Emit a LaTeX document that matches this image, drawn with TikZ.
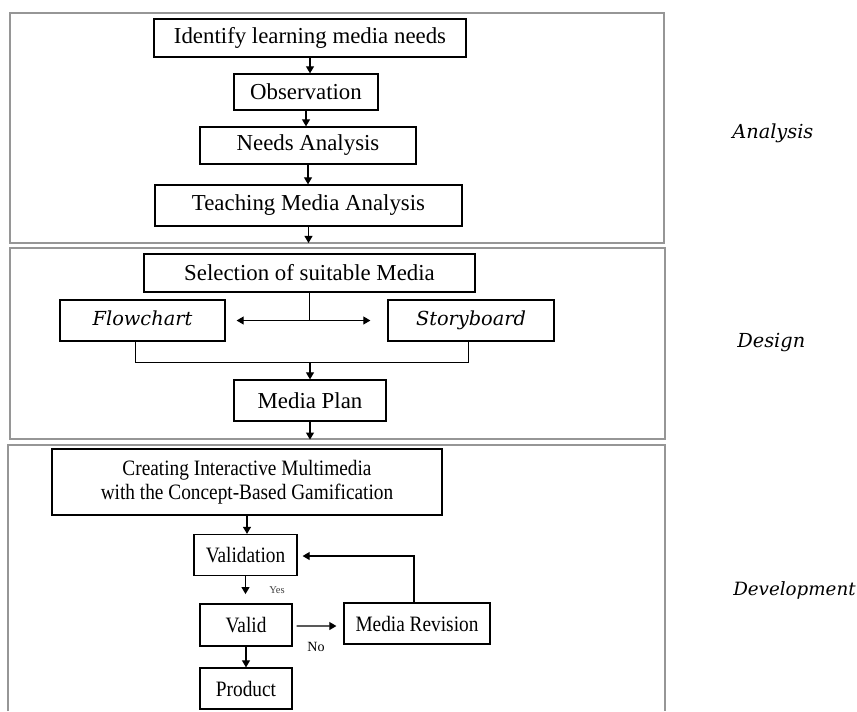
\documentclass[tikz,border=0pt]{standalone}
\usepackage{fontspec}
\setmainfont{Liberation Serif}
\newfontfamily\dvfont{DejaVu Serif}
\newfontfamily\devfont{Liberation Serif}[FakeStretch=0.88]
\usetikzlibrary{arrows.meta,calc}
\definecolor{panelgray}{RGB}{150,150,150}
\begin{document}
\begin{tikzpicture}[x=0.02cm,y=-0.02cm,
  box/.style={draw,line width=0.7pt,inner sep=0pt,align=center,font=\fontsize{13}{14}\selectfont},
  itbox/.style={box,text height=8pt,text depth=2pt,font=\dvfont\itshape\fontsize{11}{13}\selectfont},
  devbox/.style={box,font=\devfont\fontsize{12.5}{13.8}\selectfont},
  panel/.style={draw=panelgray,line width=0.9pt},
  arr/.style={-{Triangle[length=4pt,width=4.5pt]},line width=0.7pt},
  phase/.style={anchor=base west,inner sep=0pt,font=\dvfont\itshape\fontsize{11}{13}\selectfont}]
\useasboundingbox (0,0) rectangle (857,711);
% the three phase panels
\draw[panel] (10,13) rectangle (664,243);
\draw[panel] (10,248) rectangle (665,439);
\draw[panel] (8,711) -- (8,445) -- (665,445) -- (665,711);
\node[phase] (ana) at (732,138) {Analysis};
\node[phase] (des) at (737,347) {Design};
\node[phase,anchor=base east,font=\dvfont\itshape\fontsize{10.4}{13}\selectfont] (dev) at (856,595) {Development};
% analysis
\node[box,minimum width=6.24cm,minimum height=0.76cm] (idn) at (310,38) {Identify learning media needs};
\node[box,minimum width=2.88cm,minimum height=0.72cm] (obs) at (306,92) {Observation};
\node[box,minimum width=4.32cm,minimum height=0.74cm] (need) at (308,145.5) {Needs Analysis};
\node[box,minimum width=6.14cm,minimum height=0.82cm] (tma) at (308.5,205.5) {Teaching Media Analysis};
\coordinate (out1) at (309,243);
\draw[arr] (idn.south) -- (idn.south |- obs.north);
\draw[arr] (obs.south) -- (obs.south |- need.north);
\draw[arr] (need.south) -- (need.south |- tma.north);
\draw[arr] (tma.south) -- (tma.south |- out1);
% design
\node[box,minimum width=6.62cm,minimum height=0.76cm] (sel) at (309.5,273) {Selection of suitable Media};
\node[itbox,minimum width=3.30cm,minimum height=0.82cm] (flow) at (142.5,320.5) {Flowchart};
\node[itbox,minimum width=3.32cm,minimum height=0.82cm] (story) at (471,320.5) {Storyboard};
\node[box,minimum width=3.04cm,minimum height=0.82cm] (plan) at (310,400.5) {Media Plan};
\coordinate (fork) at (sel.south |- flow.east);
\coordinate (join) at (310,362);
\draw (sel.south) -- (fork);
\draw[arr] (fork) -- ($(flow.east)+(11,0)$);
\draw[arr] (fork) -- ($(story.west)+(-17,0)$);
\draw ($(flow.south)+(-7.5,0)$) |- ($(story.south)+(-3,21)$) -- ($(story.south)+(-3,0)$);
\draw[arr] (join) -- (plan.north);
\draw[arr] (plan.south) -- ++(0,18);
% development
\node[devbox,minimum width=7.80cm,minimum height=1.32cm] (create) at (247,482) {Creating Interactive Multimedia\\with the Concept-Based Gamification};
\node[devbox,minimum width=2.06cm,minimum height=0.82cm] (valn) at (245.5,555) {Validation};
\node[devbox,minimum width=1.84cm,minimum height=0.84cm] (valid) at (246,625) {Valid};
\node[devbox,minimum width=1.84cm,minimum height=0.82cm] (prod) at (246,688.5) {Product};
\node[devbox,minimum width=2.92cm,minimum height=0.82cm] (rev) at (417,623.5) {Media Revision};
\node[font=\fontsize{6}{7}\selectfont,text=darkgray] (yes) at (277,590) {Yes};
\node[font=\fontsize{8}{9}\selectfont] (no) at (316,647) {No};
\draw[arr] (create.south) -- (create.south |- valn.north);
\draw[arr] (valn.south) -- ++(0,18);
\draw[arr] (valid.south) -- (valid.south |- prod.north);
\draw[arr] ($(valid.east)+(4,1)$) -- ($(rev.west)+(-7,2.5)$);
\draw[arr] ($(rev.north)+(-3,0)$) |- ($(valn.east)+(5,1)$);
\end{tikzpicture}
\end{document}
